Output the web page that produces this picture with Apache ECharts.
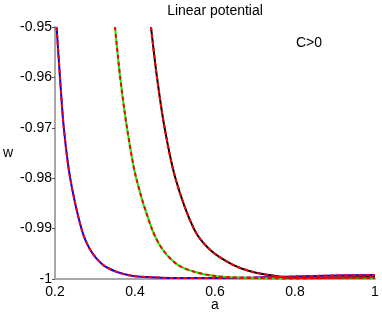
<!DOCTYPE html>
<html>
<head>
<meta charset="utf-8">
<script src="https://cdn.jsdelivr.net/npm/echarts@6/dist/echarts.min.js"></script>
<style>html,body{margin:0;padding:0;background:#fff;}#c{width:382px;height:314px;}</style>
</head>
<body>
<div id="c"></div>
<script>
// x-axis ticks and y-axis ticks
var xTicks = [0.2, 0.4, 0.6, 0.8, 1];
var yTicks = [-1, -0.99, -0.98, -0.97, -0.96, -0.95];

// curve 1 (blue)
var aBlue = [0.204, 0.2125, 0.222, 0.238, 0.266, 0.288, 0.32, 0.355, 0.395, 0.43, 0.5, 0.6, 0.7, 0.8, 0.9, 1.0];
var wBlue = [-0.95, -0.96, -0.97, -0.98, -0.99, -0.9942, -0.9972, -0.9986, -0.9994, -0.9996, -0.9998, -0.9998, -0.9997, -0.9995, -0.9993, -0.9992];

// curve 2 (green)
var aGreen = [0.35, 0.363, 0.38, 0.403, 0.442, 0.4695, 0.507, 0.55, 0.6, 0.65, 0.71, 0.8, 0.9, 1.0];
var wGreen = [-0.95, -0.96, -0.97, -0.98, -0.99, -0.9942, -0.9972, -0.9986, -0.9994, -0.9997, -0.9998, -0.9999, -0.9998, -0.9998];

// curve 3 (black)
var aBlack = [0.44, 0.455, 0.474, 0.501, 0.547, 0.5875, 0.645, 0.695, 0.75, 0.78, 0.85, 0.9, 1.0];
var wBlack = [-0.95, -0.96, -0.97, -0.98, -0.99, -0.9942, -0.9972, -0.9986, -0.9994, -0.9997, -0.9998, -0.9997, -0.9996];

function zip(a, w) { return a.map(function (v, i) { return [v, w[i]]; }); }

var FONT = 'Liberation Sans, Arial, sans-serif';

function solid(name, a, w, color) {
  return { name: name, type: 'line', data: zip(a, w), showSymbol: false, smooth: 0.3,
    lineStyle: { color: color, width: 2 }, clip: true, z: 2 };
}
function dashed(name, a, w) {
  return { name: name, type: 'line', data: zip(a, w), showSymbol: false, smooth: 0.3,
    lineStyle: { color: '#ff0000', width: 2, type: [4, 3] }, clip: true, z: 3 };
}

var chart = echarts.init(document.getElementById('c'));
chart.setOption({
  animation: false,
  backgroundColor: '#ffffff',
  grid: { left: 55, right: 7, top: 27, bottom: 35, containLabel: false, outerBoundsMode: 'none' },
  xAxis: {
    type: 'value', min: xTicks[0], max: xTicks[xTicks.length - 1], interval: 0.2,
    name: 'a', nameLocation: 'middle', nameGap: 19, nameMoveOverlap: false,
    nameTextStyle: { color: '#000', fontSize: 14, fontFamily: FONT },
    axisLine: { lineStyle: { color: '#a8a8a8', width: 2 } },
    axisTick: { show: false },
    splitLine: { show: false },
    axisLabel: { color: '#000', fontSize: 14, fontFamily: FONT, margin: 6,
      formatter: function (v) { return String(+v.toFixed(2)); } }
  },
  yAxis: {
    type: 'value', min: yTicks[0], max: yTicks[yTicks.length - 1], interval: 0.01,
    name: 'w', nameLocation: 'middle', nameGap: 42, nameRotate: 0, nameMoveOverlap: false,
    nameTextStyle: { color: '#000', fontSize: 14, fontFamily: FONT },
    axisLine: { lineStyle: { color: '#a8a8a8', width: 2 } },
    axisTick: { show: true, length: 3, lineStyle: { color: '#555', width: 1 } },
    splitLine: { show: false },
    axisLabel: { color: '#000', fontSize: 14, fontFamily: FONT, margin: 3,
      formatter: function (v) { return String(+v.toFixed(2)); } }
  },
  graphic: [
    { type: 'text', x: 215, y: 11, style: { text: 'Linear potential', fill: '#000', font: '14px ' + FONT, textAlign: 'center', textVerticalAlign: 'middle' } },
    { type: 'text', x: 309, y: 43, style: { text: 'C>0', fill: '#000', font: '14px ' + FONT, textAlign: 'center', textVerticalAlign: 'middle' } }
  ],
  series: [
    solid('blue', aBlue, wBlue, '#0000ff'),
    solid('green', aGreen, wGreen, '#00ff00'),
    solid('black', aBlack, wBlack, '#000000'),
    dashed('blueFit', aBlue, wBlue),
    dashed('greenFit', aGreen, wGreen),
    dashed('blackFit', aBlack, wBlack)
  ]
});
</script>
</body>
</html>
